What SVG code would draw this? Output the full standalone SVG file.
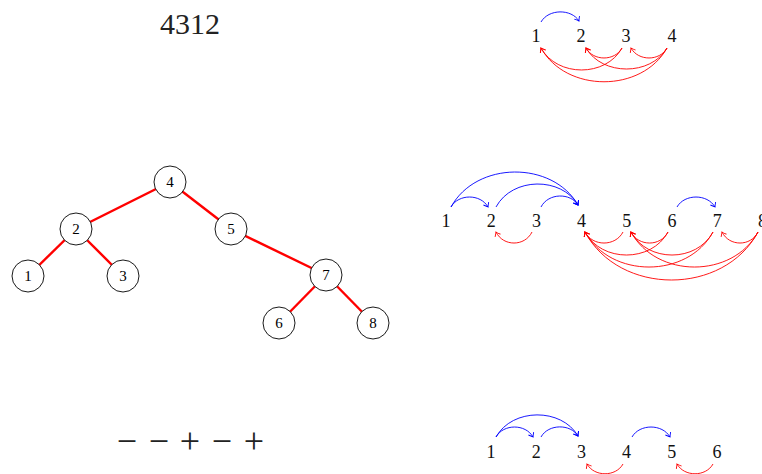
<svg xmlns="http://www.w3.org/2000/svg" width="762" height="474" viewBox="0 0 762 474">
<style>
.lbl{font-family:"Liberation Serif",serif;font-size:15px;fill:#000;text-anchor:middle}
.rl{font-family:"Liberation Serif",serif;font-size:18px;fill:#111;text-anchor:middle}
.b{fill:none;stroke:#0000ff;stroke-width:0.9;marker-end:url(#ab)}
.r{fill:none;stroke:#ff0000;stroke-width:0.9;marker-end:url(#ar)}
.edge{stroke:#ff0000;stroke-width:2.4;fill:none}
.node circle{fill:#fff;stroke:#000;stroke-width:0.9}
.big{font-family:"Liberation Serif",serif;fill:#222;text-anchor:middle}
</style>
<defs>
<marker id="ab" viewBox="-5 -4 6 8" markerWidth="6" markerHeight="8" refX="0" refY="0" orient="auto" markerUnits="userSpaceOnUse"><path d="M-4,-3 Q-1,-0.5 0,0 Q-1,0.5 -4,3" fill="none" stroke="#0000ff" stroke-width="0.9"/></marker>
<marker id="ar" viewBox="-5 -4 6 8" markerWidth="6" markerHeight="8" refX="0" refY="0" orient="auto" markerUnits="userSpaceOnUse"><path d="M-4,-3 Q-1,-0.5 0,0 Q-1,0.5 -4,3" fill="none" stroke="#ff0000" stroke-width="0.9"/></marker>
</defs>
<rect width="762" height="474" fill="#fff"/>

<text class="big" x="190" y="34" font-size="30">4312</text>

<g id="signs">
<text class="big" font-size="36" y="453"><tspan x="127">−</tspan><tspan x="159">−</tspan><tspan x="190">+</tspan><tspan x="222">−</tspan><tspan x="254">+</tspan></text>
</g>

<!-- tree -->
<g id="tree-edges">
<line class="edge" x1="170" y1="182" x2="76" y2="229"/>
<line class="edge" x1="170" y1="182" x2="231" y2="229"/>
<line class="edge" x1="76" y1="229" x2="28" y2="276"/>
<line class="edge" x1="76" y1="229" x2="123" y2="276"/>
<line class="edge" x1="231" y1="229" x2="326" y2="275"/>
<line class="edge" x1="326" y1="275" x2="279" y2="323"/>
<line class="edge" x1="326" y1="275" x2="373" y2="323"/>
</g>
<g id="t4" class="node"><circle cx="170" cy="182" r="16"/><text class="lbl" x="170" y="187">4</text></g>
<g id="t2" class="node"><circle cx="76" cy="229" r="16"/><text class="lbl" x="76" y="234">2</text></g>
<g id="t5" class="node"><circle cx="231" cy="229" r="16"/><text class="lbl" x="231" y="234">5</text></g>
<g id="t1" class="node"><circle cx="28" cy="276" r="16"/><text class="lbl" x="28" y="281">1</text></g>
<g id="t3" class="node"><circle cx="123" cy="276" r="16"/><text class="lbl" x="123" y="281">3</text></g>
<g id="t7" class="node"><circle cx="326" cy="275" r="16"/><text class="lbl" x="326" y="280">7</text></g>
<g id="t6" class="node"><circle cx="279" cy="323" r="16"/><text class="lbl" x="279" y="328">6</text></g>
<g id="t8" class="node"><circle cx="373" cy="323" r="16"/><text class="lbl" x="373" y="328">8</text></g>

<!-- row 1 -->
<g id="row1-labels">
<text class="rl" x="536" y="41.5">1</text>
<text class="rl" x="581" y="41.5">2</text>
<text class="rl" x="626" y="41.5">3</text>
<text class="rl" x="672" y="41.5">4</text>
</g>
<g id="row1-arcs">
<path class="b" d="M541,22 C548.6,8.7 571.4,8.7 579,21"/>
<path class="r" d="M622,48 C614.8,61.3 593.2,61.3 586,48"/>
<path class="r" d="M622,48 C605.8,77.3 557.2,77.3 541,48"/>
<path class="r" d="M667,48 C659.8,61.3 638.2,61.3 631,48"/>
<path class="r" d="M667,48 C650.8,76 602.2,76 586,48"/>
<path class="r" d="M667,48 C641.8,93 566.2,93 541,48"/>
</g>

<!-- row 2 -->
<g id="row2-labels">
<text class="rl" x="446" y="226.5">1</text>
<text class="rl" x="491.2" y="226.5">2</text>
<text class="rl" x="536.4" y="226.5">3</text>
<text class="rl" x="581.6" y="226.5">4</text>
<text class="rl" x="626.8" y="226.5">5</text>
<text class="rl" x="672" y="226.5">6</text>
<text class="rl" x="717.2" y="226.5">7</text>
<text class="rl" x="762.4" y="226.5">8</text>
</g>
<g id="row2-arcs">
<path class="b" d="M451,207 C458.4,193.7 480.6,193.7 488,207"/>
<path class="b" d="M451,207 C476.4,160.7 552.6,160.7 578,205"/>
<path class="b" d="M496,207 C512.4,176.7 561.6,176.7 578,205"/>
<path class="b" d="M541,207 C548.4,192.7 570.6,192.7 578,205"/>
<path class="b" d="M677,207 C684.6,193.7 707.4,193.7 715,207"/>
<path class="r" d="M532,232 C524.8,246.7 503.2,246.7 496,232"/>
<path class="r" d="M623,232 C615.4,246.7 592.6,246.7 585,232"/>
<path class="r" d="M668,232 C660.6,246.7 638.4,246.7 631,232"/>
<path class="r" d="M668,232 C651.4,262.7 601.6,262.7 585,232"/>
<path class="r" d="M713,232 C696.6,262.7 647.4,262.7 631,232"/>
<path class="r" d="M713,232 C687.4,278.7 610.6,278.7 585,232"/>
<path class="r" d="M758,232 C750.8,246.7 729.2,246.7 722,232"/>
<path class="r" d="M758,232 C732.6,278.7 656.4,278.7 631,232"/>
<path class="r" d="M758,232 C723.4,296 619.6,296 585,232"/>
</g>

<!-- row 3 -->
<g id="row3-labels">
<text class="rl" x="491" y="457.5">1</text>
<text class="rl" x="536.2" y="457.5">2</text>
<text class="rl" x="581.4" y="457.5">3</text>
<text class="rl" x="626.6" y="457.5">4</text>
<text class="rl" x="671.8" y="457.5">5</text>
<text class="rl" x="717" y="457.5">6</text>
</g>
<g id="row3-arcs">
<path class="b" d="M496,437 C503.4,423.7 525.6,423.7 533,437"/>
<path class="b" d="M496,437 C512.4,407.7 561.6,407.7 578,436"/>
<path class="b" d="M541,437 C548.4,423.7 570.6,423.7 578,436"/>
<path class="b" d="M632,437 C639.6,423.7 662.4,423.7 670,437"/>
<path class="r" d="M623,464 C615.8,477 594.2,477 587,464"/>
<path class="r" d="M713,464 C705.8,477 684.2,477 677,464"/>
</g>
</svg>
